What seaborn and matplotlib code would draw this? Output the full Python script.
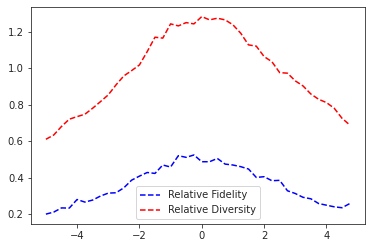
import numpy as np
import pandas as pd
import matplotlib
matplotlib.use("Agg")
import matplotlib.pyplot as plt
import seaborn as sns

x_vals = [-5.0, -4.75, -4.5, -4.25, -4.0, -3.75, -3.5, -3.25, -3.0, -2.75,
          -2.5, -2.25, -2.0, -1.75, -1.5, -1.25, -1.0, -0.75, -0.5, -0.25,
          0.0, 0.25, 0.5, 0.75, 1.0, 1.25, 1.5, 1.75, 2.0, 2.25,
          2.5, 2.75, 3.0, 3.25, 3.5, 3.75, 4.0, 4.25, 4.5, 4.75]
fidelity = [0.200, 0.211, 0.234, 0.233, 0.280, 0.266, 0.277, 0.299, 0.315, 0.317,
            0.344, 0.386, 0.408, 0.428, 0.423, 0.469, 0.458, 0.520, 0.511, 0.524,
            0.487, 0.487, 0.505, 0.474, 0.469, 0.460, 0.447, 0.401, 0.405, 0.383,
            0.385, 0.328, 0.313, 0.292, 0.284, 0.258, 0.249, 0.240, 0.235, 0.258]
diversity = [0.610, 0.633, 0.680, 0.720, 0.734, 0.747, 0.780, 0.816, 0.853, 0.908,
             0.957, 0.986, 1.017, 1.090, 1.169, 1.164, 1.242, 1.231, 1.249, 1.242,
             1.282, 1.264, 1.273, 1.264, 1.237, 1.191, 1.127, 1.120, 1.063, 1.035,
             0.975, 0.972, 0.930, 0.902, 0.858, 0.829, 0.811, 0.780, 0.725, 0.688]
labels = ["Relative Fidelity", "Relative Diversity"]

sns.set_style("ticks")
plt.rcParams['font.family'] = ['DejaVu Sans']

df = pd.DataFrame({"x": x_vals, "fid": fidelity, "div": diversity})

fig = plt.figure(figsize=(372/72, 248/72), dpi=72)
ax = fig.add_axes([30.7/372, 24/248, (365-30.7)/372, (224-6.7)/248])
sns.lineplot(data=df, x="x", y="fid", ax=ax, color="blue", linestyle="--", label=labels[0])
sns.lineplot(data=df, x="x", y="div", ax=ax, color="red", linestyle="--", label=labels[1])
ax.set_xlabel("")
ax.set_ylabel("")
ax.set_xticks([-4, -2, 0, 2, 4])
ax.set_xticklabels(["\u22124", "\u22122", "0", "2", "4"])
ax.set_yticks([0.2, 0.4, 0.6, 0.8, 1.0, 1.2])
ax.legend(loc="lower center")
fig.savefig("out.png", dpi=72)
